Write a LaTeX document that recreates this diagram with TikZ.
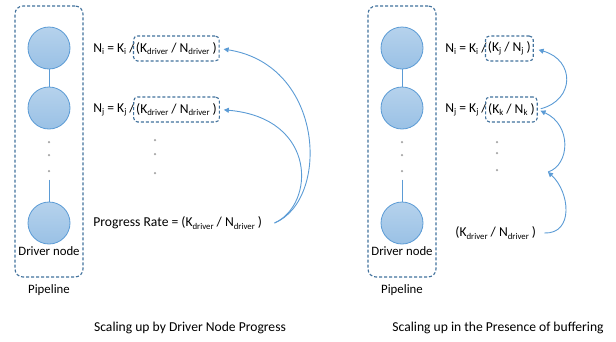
\documentclass[tikz,border=0pt]{standalone}
\usepackage{fontspec}
\setmainfont{Carlito}
\usetikzlibrary{arrows.meta, positioning}
\definecolor{cfill}{HTML}{9DC3E6}
\definecolor{cedge}{HTML}{5B9BD5}
\definecolor{cdash}{HTML}{41719C}
\definecolor{cdot}{HTML}{A6A6A6}
\newcommand{\sub}[1]{\raisebox{-0.35ex}{\fontsize{8.8}{9}\selectfont #1}}
\tikzset{
  every picture/.style={line width=0.8pt},
  stage/.style={circle, draw=cedge, top color=cfill!75, bottom color=cfill!95!cedge, minimum size=42pt, inner sep=0pt},
  pipe/.style={draw=cdash, dashed, dash pattern=on 3pt off 2pt, rounded corners=8pt, line width=1.1pt, minimum width=68pt, minimum height=271pt},
  ratio/.style={draw=cdash, dashed, dash pattern=on 3pt off 2pt, rounded corners=4pt, line width=1.1pt, inner sep=2.5pt, minimum height=25pt, font=\fontsize{13.6}{16}\selectfont},
  eq/.style={font=\fontsize{13.6}{16}\selectfont, inner sep=0pt},
  small/.style={font=\fontsize{12.8}{15}\selectfont, inner sep=0pt},
  dot/.style={circle, fill=cdot, inner sep=0pt, minimum size=2.5pt},
  link/.style={draw=cedge, line width=0.8pt},
  feed/.style={-{Triangle[length=5pt, width=5pt]}, draw=cedge, line width=0.9pt},
  caption/.style={font=\fontsize{13.6}{16}\selectfont, inner sep=0pt},
}
\begin{document}
\begin{tikzpicture}[x=1pt, y=-1pt]
  \useasboundingbox (0,0) rectangle (616,341);
  % left: driver node progress
  \node[pipe] (pipeL) at (49,141.5) {};
  \node[stage] (cL1) at (49,48) {};
  \node[stage] (cL2) at (49,108) {};
  \node[stage] (cL3) at (49,223) {};
  \node[dot] (dL1) at (49,142) {};
  \node[dot] (dL2) at (49,155) {};
  \node[dot] (dL3) at (49,171) {};
  \node[small] (drvL) at (49,251) {Driver node};
  \node[small, below=7pt of pipeL] (pipL) {Pipeline};
  \draw[link] (cL1) -- (cL2);
  \draw[link, shorten <=7pt] (dL3) -- (cL3);
  \node[eq, anchor=west] (eqL1) at (93,48.5) {N\sub{i} = K\sub{i} /};
  \node[ratio, right=-2pt of eqL1] (bxL1) {(K\sub{driver} / N\sub{driver} )};
  \node[eq, anchor=west] (eqL2) at (93,109.5) {N\sub{j} = K\sub{j} /};
  \node[ratio, right=-2pt of eqL2] (bxL2) {(K\sub{driver} / N\sub{driver} )};
  \node[dot] (eL1) at (155,140) {};
  \node[dot] (eL2) at (155,154) {};
  \node[dot] (eL3) at (155,173) {};
  \node[eq, anchor=west] (rate) at (93,223) {Progress Rate = (K\sub{driver} / N\sub{driver} )};
  \coordinate[right=12pt of rate] (srcL);
  \draw[feed, shorten >=4pt] (srcL) .. controls (330,200) and (325,65) .. (bxL1.east);
  \draw[feed, shorten >=4pt] (srcL) .. controls (315,205) and (318,118) .. (bxL2.east);
  \node[caption] (capL) at (190,328) {Scaling up by Driver Node Progress};
  % right: presence of buffering
  \node[pipe] (pipeR) at (402,141.5) {};
  \node[stage] (cR1) at (402,48) {};
  \node[stage] (cR2) at (402,108) {};
  \node[stage] (cR3) at (402,223) {};
  \node[dot] (dR1) at (402,142) {};
  \node[dot] (dR2) at (402,155) {};
  \node[dot] (dR3) at (402,171) {};
  \node[small] (drvR) at (402,251) {Driver node};
  \node[small, below=7pt of pipeR] (pipR) {Pipeline};
  \draw[link] (cR1) -- (cR2);
  \draw[link, shorten <=7pt] (dR3) -- (cR3);
  \node[eq, anchor=west] (eqR1) at (445,48.5) {N\sub{i} = K\sub{i} /};
  \node[ratio, right=-2pt of eqR1] (bxR1) {(K\sub{j} / N\sub{j} )};
  \node[eq, anchor=west] (eqR2) at (445,109.5) {N\sub{j} = K\sub{j} /};
  \node[ratio, right=-2pt of eqR2] (bxR2) {(K\sub{k} / N\sub{k} )};
  \node[dot] (eR1) at (497,142) {};
  \node[dot] (eR2) at (497,153) {};
  \node[dot] (eR3) at (497,170) {};
  \node[eq, anchor=west] (base) at (455,233) {(K\sub{driver} / N\sub{driver} )};
  \coordinate[right=8pt of base] (srcR);
  \coordinate (hop) at (548,172);
  \draw[feed] (srcR) .. controls (574,234) and (570,192) .. (hop);
  \draw[feed, shorten >=3pt] (hop) .. controls (570,165) and (572,125) .. (bxR2.east);
  \draw[feed, shorten <=3pt, shorten >=5pt] (bxR2.east) .. controls (575,100) and (575,60) .. (bxR1.east);
  \node[caption] (capR) at (498,328) {Scaling up in the Presence of buffering};
\end{tikzpicture}
\end{document}
